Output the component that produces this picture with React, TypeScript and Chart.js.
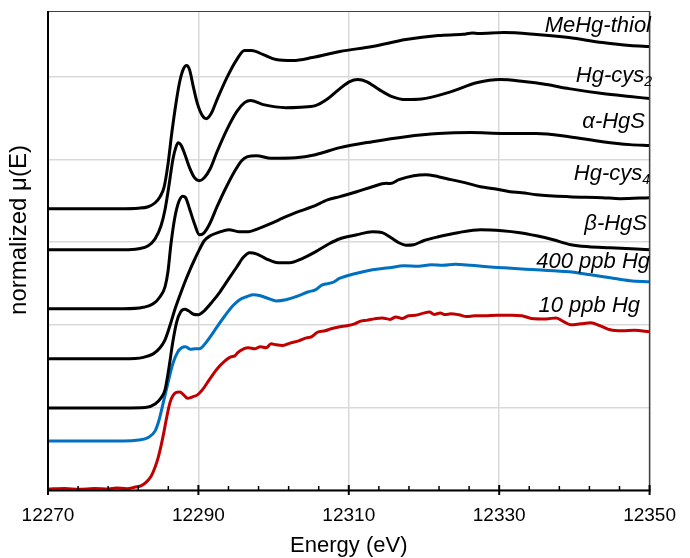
import React, { useEffect, useRef } from "react";
import { Chart, registerables } from "chart.js";

Chart.register(...registerables);

// ---------- data ----------
const xTicks = [12270, 12290, 12310, 12330, 12350];
const yGrid = [0, 0.5, 1, 1.5, 2, 2.5];

const energyMeHg = [12270, 12279.41, 12282.03, 12283.33, 12284.25, 12284.9, 12285.42, 12285.95, 12286.47, 12286.99, 12287.52, 12288.04, 12288.43, 12288.82, 12289.35, 12289.87, 12290.52, 12291.05, 12291.7, 12292.48, 12293.79, 12295.1, 12296.14, 12297.06, 12298.63, 12300.33, 12302.55, 12305.16, 12308.82, 12313.14, 12317.58, 12321.9, 12325.16, 12326.47, 12327.25, 12330.65, 12334.97, 12339.28, 12343.73, 12347.39, 12350];
const muMeHg = [1.703, 1.703, 1.706, 1.715, 1.739, 1.776, 1.83, 1.97, 2.164, 2.333, 2.473, 2.552, 2.57, 2.545, 2.436, 2.339, 2.267, 2.248, 2.279, 2.364, 2.497, 2.606, 2.661, 2.661, 2.636, 2.606, 2.6, 2.618, 2.655, 2.685, 2.727, 2.752, 2.759, 2.767, 2.764, 2.77, 2.758, 2.739, 2.709, 2.691, 2.685];

const energyHgCys2 = [12270, 12280.07, 12282.03, 12283.33, 12284.25, 12285.03, 12285.56, 12286.08, 12286.6, 12286.99, 12287.32, 12287.65, 12288.17, 12288.82, 12289.48, 12290.13, 12290.78, 12291.57, 12292.48, 12293.79, 12295.1, 12296.14, 12296.93, 12298.63, 12301.63, 12303.59, 12305.56, 12307.25, 12308.82, 12310.13, 12311.18, 12312.35, 12314.05, 12315.75, 12317.58, 12319.67, 12323.2, 12327.12, 12330.13, 12333.27, 12336.27, 12339.28, 12343.73, 12347.39, 12350];
const muHgCys2 = [1.455, 1.455, 1.461, 1.479, 1.521, 1.6, 1.697, 1.842, 2.0, 2.073, 2.103, 2.091, 2.036, 1.952, 1.891, 1.873, 1.891, 1.945, 2.048, 2.182, 2.291, 2.345, 2.358, 2.333, 2.315, 2.318, 2.327, 2.37, 2.43, 2.473, 2.485, 2.473, 2.424, 2.382, 2.364, 2.367, 2.406, 2.467, 2.485, 2.473, 2.455, 2.43, 2.4, 2.382, 2.37];

const energyAlphaHgS = [12270, 12280.07, 12282.68, 12283.99, 12284.9, 12285.56, 12285.95, 12286.34, 12286.86, 12287.39, 12287.91, 12288.3, 12288.82, 12289.48, 12290.13, 12290.65, 12291.44, 12292.48, 12293.53, 12294.71, 12295.75, 12296.54, 12297.71, 12299.67, 12302.94, 12305.56, 12308.82, 12313.14, 12317.58, 12321.9, 12326.21, 12330.65, 12334.97, 12339.28, 12343.73, 12347.39, 12350];
const muAlphaHgS = [1.097, 1.097, 1.106, 1.127, 1.17, 1.23, 1.321, 1.485, 1.648, 1.745, 1.779, 1.77, 1.703, 1.612, 1.545, 1.552, 1.606, 1.715, 1.818, 1.921, 1.994, 2.018, 2.024, 2.009, 2.012, 2.03, 2.073, 2.109, 2.139, 2.158, 2.164, 2.158, 2.158, 2.139, 2.109, 2.091, 2.085];

const energyHgCys4 = [12270, 12280.07, 12282.68, 12283.99, 12284.9, 12285.56, 12286.21, 12286.86, 12287.52, 12288.17, 12288.82, 12289.48, 12290.13, 12290.78, 12291.57, 12292.75, 12294.05, 12295.36, 12296.67, 12297.97, 12299.28, 12300.72, 12302.94, 12305.16, 12307.25, 12308.82, 12311.05, 12313.14, 12314.97, 12315.49, 12316.67, 12318.63, 12320.2, 12321.9, 12323.59, 12325.42, 12327.52, 12329.35, 12331.44, 12333.01, 12334.97, 12339.28, 12343.73, 12346.08, 12350];
const muHgCys4 = [0.794, 0.794, 0.803, 0.824, 0.861, 0.909, 0.994, 1.091, 1.176, 1.255, 1.327, 1.394, 1.455, 1.509, 1.539, 1.561, 1.576, 1.564, 1.564, 1.582, 1.606, 1.636, 1.679, 1.715, 1.758, 1.776, 1.806, 1.836, 1.857, 1.855, 1.879, 1.903, 1.909, 1.897, 1.879, 1.861, 1.836, 1.824, 1.806, 1.8, 1.788, 1.776, 1.77, 1.764, 1.77];

const energyBetaHgS = [12270, 12280.07, 12282.94, 12284.25, 12285.03, 12285.56, 12286.08, 12286.6, 12287.12, 12287.65, 12288.17, 12288.69, 12289.35, 12290.0, 12290.78, 12291.83, 12292.88, 12294.05, 12295.1, 12296.01, 12296.8, 12297.71, 12299.02, 12300.59, 12302.16, 12303.73, 12305.56, 12307.39, 12308.82, 12311.05, 12313.14, 12314.44, 12315.62, 12316.67, 12317.58, 12318.63, 12319.93, 12321.9, 12324.51, 12327.52, 12330.39, 12332.75, 12334.97, 12337.19, 12339.54, 12341.9, 12344.77, 12350];
const muBetaHgS = [0.497, 0.497, 0.5, 0.521, 0.558, 0.606, 0.739, 0.897, 1.018, 1.079, 1.094, 1.085, 1.064, 1.061, 1.085, 1.139, 1.2, 1.28, 1.35, 1.41, 1.436, 1.43, 1.4, 1.376, 1.376, 1.4, 1.442, 1.491, 1.521, 1.545, 1.564, 1.558, 1.527, 1.497, 1.482, 1.485, 1.509, 1.533, 1.558, 1.576, 1.57, 1.558, 1.539, 1.515, 1.485, 1.473, 1.467, 1.455];

const energy400ppb = [12270, 12280.07, 12282.03, 12283.33, 12284.25, 12284.77, 12285.29, 12285.95, 12286.6, 12287.25, 12287.78, 12288.3, 12288.95, 12289.61, 12290.13, 12290.78, 12291.57, 12292.48, 12293.53, 12294.58, 12295.49, 12296.41, 12297.32, 12298.24, 12299.02, 12300.33, 12301.63, 12302.94, 12304.64, 12305.56, 12306.47, 12307.78, 12308.82, 12310.78, 12313.14, 12315.36, 12317.32, 12319.28, 12320.98, 12322.55, 12324.12, 12326.21, 12328.43, 12330.65, 12334.97, 12339.28, 12342.16, 12344.77, 12347.39, 12350];
const mu400ppb = [0.297, 0.297, 0.303, 0.318, 0.358, 0.424, 0.521, 0.648, 0.764, 0.836, 0.861, 0.867, 0.852, 0.855, 0.855, 0.879, 0.927, 0.988, 1.055, 1.115, 1.152, 1.17, 1.182, 1.176, 1.164, 1.145, 1.152, 1.17, 1.2, 1.212, 1.242, 1.255, 1.282, 1.309, 1.333, 1.345, 1.358, 1.355, 1.364, 1.361, 1.367, 1.361, 1.352, 1.345, 1.333, 1.321, 1.303, 1.285, 1.267, 1.261];

const energy10ppb = [12270, 12272.22, 12274.18, 12276.14, 12278.1, 12279.02, 12280.46, 12281.63, 12282.42, 12283.07, 12283.73, 12284.25, 12284.64, 12285.03, 12285.42, 12285.82, 12286.21, 12286.6, 12287.06, 12287.52, 12288.04, 12288.56, 12289.22, 12289.87, 12290.52, 12291.44, 12292.48, 12293.53, 12294.31, 12294.84, 12295.23, 12296.01, 12296.67, 12297.45, 12298.24, 12299.02, 12299.67, 12300.33, 12301.24, 12302.29, 12303.33, 12304.38, 12305.03, 12305.82, 12306.86, 12307.65, 12308.82, 12309.74, 12310.78, 12311.7, 12312.35, 12313.4, 12314.44, 12315.49, 12316.27, 12317.06, 12317.97, 12318.89, 12319.93, 12320.72, 12321.37, 12322.16, 12322.81, 12323.59, 12324.64, 12325.69, 12326.73, 12328.04, 12329.74, 12331.7, 12333.01, 12334.31, 12336.27, 12337.58, 12338.63, 12339.54, 12340.85, 12342.16, 12343.46, 12344.77, 12346.34, 12348.04, 12350];
const mu10ppb = [0.006, 0.009, 0.004, 0.009, 0.006, 0.012, 0.008, 0.018, 0.027, 0.048, 0.085, 0.139, 0.194, 0.267, 0.352, 0.448, 0.527, 0.57, 0.591, 0.594, 0.576, 0.555, 0.564, 0.576, 0.606, 0.667, 0.733, 0.782, 0.806, 0.812, 0.832, 0.855, 0.861, 0.855, 0.867, 0.861, 0.885, 0.879, 0.875, 0.891, 0.903, 0.921, 0.927, 0.955, 0.964, 0.976, 0.988, 0.994, 1.006, 1.024, 1.027, 1.036, 1.042, 1.033, 1.048, 1.038, 1.055, 1.058, 1.071, 1.077, 1.063, 1.071, 1.062, 1.067, 1.061, 1.05, 1.055, 1.055, 1.058, 1.058, 1.055, 1.039, 1.036, 1.042, 1.018, 1.0, 1.006, 1.012, 0.994, 0.97, 0.964, 0.967, 0.958];

const seriesNames = ["MeHg-thiol", "Hg-cys2", "α-HgS", "Hg-cys4", "β-HgS", "400 ppb Hg", "10 ppb Hg"];
const seriesEnergy = [energyMeHg, energyHgCys2, energyAlphaHgS, energyHgCys4, energyBetaHgS, energy400ppb, energy10ppb];
const seriesMu = [muMeHg, muHgCys2, muAlphaHgS, muHgCys4, muBetaHgS, mu400ppb, mu10ppb];

// label text parts (main + subscript)
const labelMain = ["MeHg-thiol", "Hg-cys", "α-HgS", "Hg-cys", "β-HgS", "400 ppb Hg", "10 ppb Hg"];
const labelSub = ["", "2", "", "4", "", "", ""];

// ---------- styling / layout ----------
const seriesColors = ["#000000", "#000000", "#000000", "#000000", "#000000", "#0070C0", "#C00000"];
const labelRight = [651, 652, 645, 650, 647, 650, 640];
const labelBaseline = [32, 82, 128, 180, 230, 268, 312];
const FONT = '"Liberation Sans", Arial, Helvetica, sans-serif';

const decorPlugin = {
  id: "decor",
  afterDraw(chart: any) {
    const ctx = chart.ctx as CanvasRenderingContext2D;
    const { left, right, top, bottom } = chart.chartArea;
    const xs = chart.scales.x;
    ctx.save();
    // top & right frame
    ctx.strokeStyle = "#404040";
    ctx.lineWidth = 1;
    ctx.beginPath();
    ctx.moveTo(left, top + 0.5);
    ctx.lineTo(right, top + 0.5);
    ctx.stroke();
    ctx.lineWidth = 1.5;
    ctx.beginPath();
    ctx.moveTo(right, top);
    ctx.lineTo(right, bottom);
    ctx.stroke();
    // left & bottom axes
    ctx.strokeStyle = "#000";
    ctx.lineWidth = 2;
    ctx.beginPath();
    ctx.moveTo(left, top);
    ctx.lineTo(left, bottom + 1);
    ctx.stroke();
    ctx.beginPath();
    ctx.moveTo(left - 1, bottom + 0.5);
    ctx.lineTo(right + 1, bottom + 0.5);
    ctx.stroke();
    // tick marks
    const min = xs.min, max = xs.max;
    for (let e = min; e <= max + 0.001; e += 4) {
      const px = xs.getPixelForValue(e);
      const isMajor = Math.abs((e - min) % 20) < 0.001;
      ctx.beginPath();
      if (isMajor) {
        ctx.lineWidth = 2;
        ctx.moveTo(px, bottom - 5);
        ctx.lineTo(px, bottom + 5);
      } else {
        ctx.lineWidth = 1.5;
        ctx.moveTo(px, bottom - 4);
        ctx.lineTo(px, bottom);
      }
      ctx.stroke();
    }
    // series labels
    ctx.fillStyle = "#000";
    for (let i = 0; i < labelMain.length; i++) {
      const mainFont = "italic 22px " + FONT;
      const subFont = "italic 14px " + FONT;
      let subW = 0;
      if (labelSub[i]) {
        ctx.font = subFont;
        subW = ctx.measureText(labelSub[i]).width;
      }
      ctx.font = mainFont;
      ctx.textAlign = "right";
      ctx.textBaseline = "alphabetic";
      ctx.fillText(labelMain[i], labelRight[i] - subW, labelBaseline[i]);
      if (labelSub[i]) {
        ctx.font = subFont;
        ctx.textAlign = "left";
        ctx.fillText(labelSub[i], labelRight[i] - subW, labelBaseline[i] + 4);
      }
    }
    // axis titles
    ctx.font = "22px " + FONT;
    ctx.textAlign = "center";
    ctx.textBaseline = "alphabetic";
    ctx.fillText("Energy (eV)", (left + right) / 2, 552);
    ctx.save();
    ctx.translate(26, 230);
    ctx.rotate(-Math.PI / 2);
    ctx.font = "24px " + FONT;
    ctx.fillText("normalized μ(E)", 0, 0);
    ctx.restore();
    ctx.restore();
  },
};

export default function App() {
  const canvasRef = useRef<HTMLCanvasElement | null>(null);

  useEffect(() => {
    if (!canvasRef.current) return;
    const datasets = seriesNames.map((name, i) => ({
      label: name,
      data: seriesEnergy[i].map((x, j) => ({ x, y: seriesMu[i][j] })),
      borderColor: seriesColors[i],
      backgroundColor: seriesColors[i],
      borderWidth: 3,
      pointRadius: 0,
      fill: false,
      cubicInterpolationMode: "monotone" as const,
      clip: false as const,
    }));

    const chart = new Chart(canvasRef.current, {
      type: "line",
      data: { datasets },
      options: {
        responsive: false,
        animation: false,
        devicePixelRatio: 1,
        layout: { padding: { top: 11, right: 30, left: 0, bottom: 0 } },
        plugins: { legend: { display: false }, tooltip: { enabled: false } },
        scales: {
          x: {
            type: "linear",
            min: 12270,
            max: 12350,
            afterBuildTicks: (s: any) => {
              s.ticks = xTicks.map((v) => ({ value: v }));
            },
            afterFit: (s: any) => {
              s.height = 68;
            },
            ticks: {
              autoSkip: false,
              maxRotation: 0,
              padding: 14,
              color: "#000",
              font: { family: FONT, size: 19 },
              callback: (v: any) => String(v),
            },
            grid: { color: "#d9d9d9", lineWidth: 1.5, drawTicks: false },
            border: { display: false },
          },
          y: {
            type: "linear",
            min: 0,
            max: 2.9,
            afterBuildTicks: (s: any) => {
              s.ticks = yGrid.map((v) => ({ value: v }));
            },
            afterFit: (s: any) => {
              s.width = 48;
            },
            ticks: { display: false },
            grid: { color: "#d9d9d9", lineWidth: 1.5, drawTicks: false },
            border: { display: false },
          },
        },
      },
      plugins: [decorPlugin],
    });
    return () => chart.destroy();
  }, []);

  return (
    <div style={{ position: "absolute", left: 0, top: 0, width: 690, height: 558, background: "#fff" }}>
      <canvas ref={canvasRef} width={690} height={558} style={{ display: "block" }} />
    </div>
  );
}
